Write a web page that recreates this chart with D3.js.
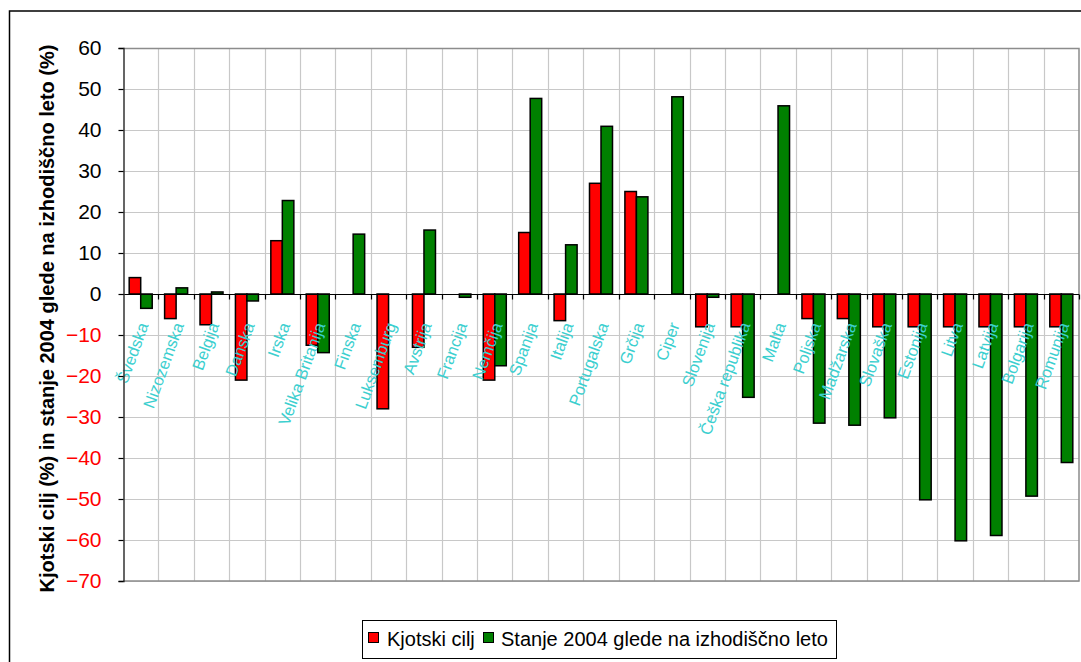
<!DOCTYPE html>
<html>
<head>
<meta charset="utf-8">
<script src="https://cdn.jsdelivr.net/npm/d3@7/dist/d3.min.js"></script>
<style>
  html, body { margin: 0; padding: 0; background: #fff; }
  svg { display: block; font-family: Arial, "Liberation Sans", sans-serif; }
</style>
</head>
<body>
<svg id="chart" width="1081" height="662"></svg>
<script>
// Countries (EU members plus candidates)
const countries = [
  "Švedska", "Nizozemska", "Belgija", "Danska", "Irska", "Velika Britanija",
  "Finska", "Luksemburg", "Avstrija", "Francija", "Nemčija", "Spanija",
  "Italija", "Portugalska", "Grčija", "Ciper", "Slovenija", "Češka republika",
  "Malta", "Poljska", "Madžarska", "Slovaška", "Estonija", "Litva",
  "Latvija", "Bolgarija", "Romunija"
];

// Kyoto target (%), null where no target exists
const kyotoTarget = [
  4, -6, -7.5, -21, 13, -12.5,
  0, -28, -13, 0, -21, 15,
  -6.5, 27, 25, null, -8, -8,
  null, -6, -6, -8, -8, -8,
  -8, -8, -8
];

// Status in 2004 relative to base year (%)
const status2004 = [
  -3.5, 1.5, 0.5, -1.7, 22.8, -14.3,
  14.6, 0, 15.6, -0.8, -17.5, 47.7,
  12, 40.9, 23.7, 48.1, -0.8, -25.2,
  45.9, -31.5, -32, -30.2, -50.2, -60.2,
  -58.9, -49.3, -41.1
];

const yTicks = [60, 50, 40, 30, 20, 10, 0, -10, -20, -30, -40, -50, -60, -70];

const seriesNames = ["Kjotski cilj", "Stanje 2004 glede na izhodiščno leto"];
const seriesColors = ["#FF0000", "#008000"];

const svg = d3.select("#chart");

// outer chart frame
svg.append("rect")
  .attr("x", 9.5).attr("y", 11)
  .attr("width", 1200).attr("height", 800)
  .attr("fill", "none").attr("stroke", "#000").attr("stroke-width", 1.5);

const plot = { left: 123, right: 1079, top: 48, bottom: 581 };

const x = d3.scaleBand()
  .domain(countries)
  .range([plot.left, plot.right])
  .padding(0);

const y = d3.scaleLinear()
  .domain([-70, 60])
  .range([plot.bottom, plot.top]);

const g = svg.append("g");

// horizontal gridlines
g.selectAll("line.hgrid")
  .data(yTicks)
  .join("line")
  .attr("class", "hgrid")
  .attr("x1", plot.left).attr("x2", plot.right)
  .attr("y1", d => Math.round(y(d)) + 0.5).attr("y2", d => Math.round(y(d)) + 0.5)
  .attr("stroke", "#c8c8c8").attr("stroke-width", 1.2);

// vertical gridlines at category boundaries
const boundaries = countries.slice(1).map(c => x(c));
g.selectAll("line.vgrid")
  .data(boundaries)
  .join("line")
  .attr("class", "vgrid")
  .attr("x1", d => Math.round(d) + 0.5).attr("x2", d => Math.round(d) + 0.5)
  .attr("y1", plot.top).attr("y2", plot.bottom)
  .attr("stroke", "#c8c8c8").attr("stroke-width", 1.2);

// plot area border (top, right, bottom)
g.append("path")
  .attr("d", `M${plot.left},${plot.top + 0.5}H${plot.right}V${plot.bottom}H${plot.left}`)
  .attr("fill", "none").attr("stroke", "#8c8c8c").attr("stroke-width", 1.5);

// bars
const barW = x.bandwidth() * 0.325;
const rows = countries.map((c, i) => ({ c, vals: [kyotoTarget[i], status2004[i]] }));

rows.forEach(r => {
  r.vals.forEach((v, s) => {
    if (v === null) return;
    const cx = x(r.c) + x.bandwidth() / 2;
    const bx = s === 0 ? cx - barW : cx;
    const y0 = y(0), y1 = y(v);
    g.append("rect")
      .attr("x", bx)
      .attr("y", Math.min(y0, y1))
      .attr("width", barW)
      .attr("height", Math.abs(y1 - y0))
      .attr("fill", seriesColors[s])
      .attr("stroke", "#000").attr("stroke-width", 1.5);
  });
});

// category axis along zero line
const xAxisG = g.append("g").attr("transform", `translate(0,${Math.round(y(0)) + 0.5})`);
xAxisG.append("line")
  .attr("x1", plot.left).attr("x2", plot.right)
  .attr("stroke", "#000").attr("stroke-width", 1.2);
xAxisG.selectAll("line.tick")
  .data(boundaries.concat([plot.right]))
  .join("line")
  .attr("class", "tick")
  .attr("x1", d => Math.round(d) + 0.5).attr("x2", d => Math.round(d) + 0.5)
  .attr("y1", 0).attr("y2", 5)
  .attr("stroke", "#000").attr("stroke-width", 1.2);

// category labels, rotated
g.selectAll("text.cat")
  .data(countries)
  .join("text")
  .attr("class", "cat")
  .attr("transform", d => `translate(${x(d) + x.bandwidth() / 2 + 8},325) rotate(-70)`)
  .attr("text-anchor", "end")
  .attr("font-size", 16.5)
  .attr("fill", "#3CCFCF")
  .text(d => d);

// value axis
const yAxis = d3.axisLeft(y).tickValues(yTicks).tickSize(5).tickPadding(17).tickFormat(d3.format("d"));
const yAxisG = svg.append("g")
  .attr("transform", `translate(${plot.left + 0.5},0)`)
  .call(yAxis);
yAxisG.select(".domain").attr("stroke", "#333").attr("stroke-width", 1.5);
yAxisG.selectAll(".tick line").attr("stroke", "#000").attr("stroke-width", 1.2);
yAxisG.selectAll(".tick text")
  .attr("font-size", 21)
  .attr("font-family", "Arial, 'Liberation Sans', sans-serif")
  .attr("fill", d => d < 0 ? "#FF0000" : "#000");

// value axis title
svg.append("text")
  .attr("transform", `translate(54,${(37 + 600) / 2}) rotate(-90)`)
  .attr("text-anchor", "middle")
  .attr("font-size", 20)
  .attr("font-weight", "bold")
  .attr("fill", "#000")
  .text("Kjotski cilj (%) in stanje 2004 glede na izhodiščno leto (%)");

// legend
const legend = svg.append("g");
legend.append("rect")
  .attr("x", 362.5).attr("y", 620.5)
  .attr("width", 474).attr("height", 38)
  .attr("fill", "#fff").attr("stroke", "#000").attr("stroke-width", 1);

const legendItems = [
  { name: seriesNames[0], color: seriesColors[0], sx: 368, tx: 387 },
  { name: seriesNames[1], color: seriesColors[1], sx: 483, tx: 501 }
];
legendItems.forEach(it => {
  legend.append("rect")
    .attr("x", it.sx + 0.5).attr("y", 632.5)
    .attr("width", 10).attr("height", 10)
    .attr("fill", it.color).attr("stroke", "#000").attr("stroke-width", 1);
  legend.append("text")
    .attr("x", it.tx).attr("y", 646)
    .attr("font-size", 20)
    .attr("fill", "#000")
    .text(it.name);
});
</script>
</body>
</html>
